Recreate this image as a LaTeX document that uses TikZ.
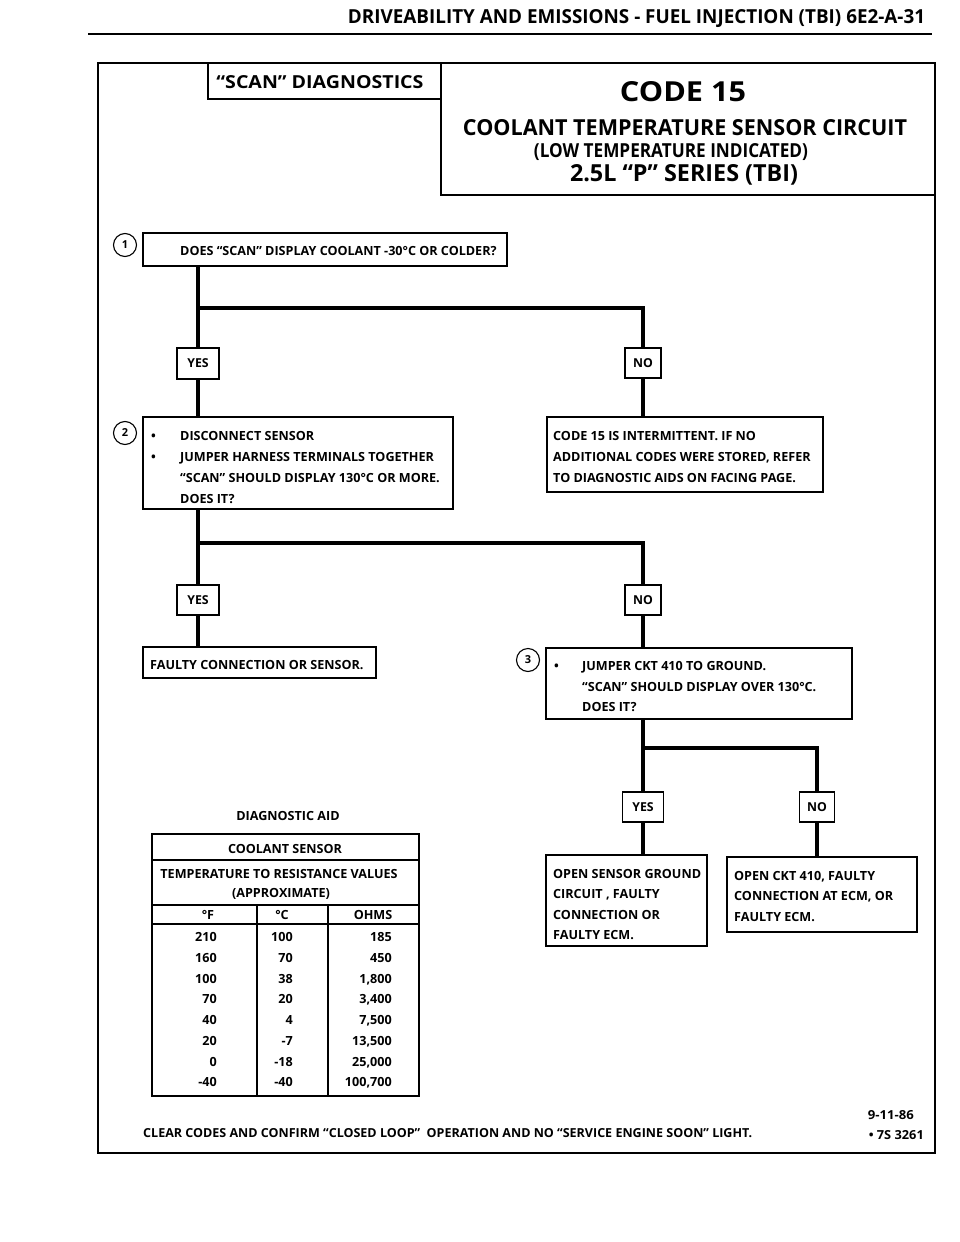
\documentclass[tikz,border=0pt]{standalone}
\usepackage{fontspec}
\setmainfont{Open Sans}
\usepackage{graphicx}
\begin{document}
\begin{tikzpicture}[x=1pt,y=-1pt,
  sz/.style 2 args={minimum width=#1pt,minimum height=#2pt},
  box/.style={draw,line width=1.2pt,inner sep=0pt,outer sep=0pt},
  yn/.style={draw,line width=1.2pt,inner sep=0pt,outer sep=0pt,fill=white,
     font=\bfseries\fontsize{12.3}{13}\selectfont},
  txt/.style={inner sep=0pt,anchor=base west,font=\bfseries\fontsize{12.6}{13}\selectfont},
  tbl/.style={inner sep=0pt,font=\bfseries\fontsize{12.6}{13}\selectfont},
  num/.style={circle,draw,line width=1.1pt,minimum size=23pt,inner sep=0pt,
     font=\bfseries\fontsize{11}{11}\selectfont},
  conn/.style={line width=3.2pt,line join=miter},
  thin/.style={line width=1.1pt}]
\useasboundingbox (0,0) rectangle (960,1242);

% page header
\node[inner sep=0pt] (hdr) at (636.5,19) {\resizebox{577pt}{14pt}{\bfseries DRIVEABILITY AND EMISSIONS - FUEL INJECTION (TBI) 6E2-A-31}};
\coordinate (ruleL) at (88,34);
\coordinate (ruleR) at (932,34);
\draw[line width=2.4pt] (ruleL) -- (ruleR);

% outer frame
\node[draw,line width=2.4pt,inner sep=0pt,sz={837}{1090}] (frame) at (516.5,608) {};

% title boxes
\node[box,sz={233}{36}] (scanbox) at (324.5,81) {};
\node[inner sep=0pt] (scantxt) at (320,82) {\resizebox{207pt}{13pt}{\bfseries “SCAN” DIAGNOSTICS}};
\node[box,sz={494}{132}] (titlebox) at (688,129) {};
\node[inner sep=0pt] (code) at (683,92) {\resizebox{126pt}{20pt}{\bfseries CODE 15}};
\node[inner sep=0pt] (ttl1) at (685,128) {\resizebox{444pt}{16pt}{\bfseries COOLANT TEMPERATURE SENSOR CIRCUIT}};
\node[inner sep=0pt] (ttl2) at (671,152) {\resizebox{274pt}{14pt}{\bfseries (LOW TEMPERATURE INDICATED)}};
\node[inner sep=0pt] (ttl3) at (684,175) {\resizebox{228pt}{17pt}{\bfseries 2.5L “P” SERIES (TBI)}};

% step 1
\node[box,sz={364}{33}] (q1) at (325,249.5) {};
\node[num] (n1) at (125,245) {1};
\node[txt] (q1t) at (180,255) {DOES “SCAN” DISPLAY COOLANT -30°C OR COLDER?};

\node[yn,sz={42}{31}] (yes1) at (198,363.5) {YES};
\node[yn,sz={36}{30}] (no1) at (643,363) {NO};
\coordinate (j1) at (198,308);

% step 2
\node[box,sz={310}{92}] (q2) at (298,463) {};
\node[num] (n2) at (125,433) {2};
\node[txt] (b2a) at (151,440) {•};
\node[txt] (q2a) at (180,440) {DISCONNECT SENSOR};
\node[txt] (b2b) at (151,461) {•};
\node[txt] (q2b) at (180,461) {JUMPER HARNESS TERMINALS TOGETHER};
\node[txt] (q2c) at (180,482) {“SCAN” SHOULD DISPLAY 130°C OR MORE.};
\node[txt] (q2d) at (180,503) {DOES IT?};

\node[box,sz={276}{75}] (inter) at (685,454.5) {};
\node[txt] (ia) at (553,440) {CODE 15 IS INTERMITTENT. IF NO};
\node[txt] (ib) at (553,461) {ADDITIONAL CODES WERE STORED, REFER};
\node[txt] (ic) at (553,482) {TO DIAGNOSTIC AIDS ON FACING PAGE.};

\node[yn,sz={42}{30}] (yes2) at (198,600) {YES};
\node[yn,sz={36}{30}] (no2) at (643,600) {NO};
\coordinate (j2) at (198,543);

\node[box,sz={233}{31}] (faulty) at (259.5,662.5) {};
\node[txt] (ft) at (150,669) {FAULTY CONNECTION OR SENSOR.};

% step 3
\node[box,sz={306}{71}] (q3) at (699,683.5) {};
\node[num] (n3) at (528,660) {3};
\node[txt] (b3) at (554,670) {•};
\node[txt] (q3a) at (582,670) {JUMPER CKT 410 TO GROUND.};
\node[txt] (q3b) at (582,691) {“SCAN” SHOULD DISPLAY OVER 130°C.};
\node[txt] (q3c) at (582,711) {DOES IT?};

\node[yn,sz={41}{30}] (yes3) at (643,807) {YES};
\node[yn,sz={35}{30}] (no3) at (817,807) {NO};
\coordinate (j3) at (643,748);

\node[box,sz={161}{91}] (r1) at (626.5,900.5) {};
\node[txt] (r1a) at (553,878) {OPEN SENSOR GROUND};
\node[txt] (r1b) at (553,898) {CIRCUIT , FAULTY};
\node[txt] (r1c) at (553,919) {CONNECTION OR};
\node[txt] (r1d) at (553,939) {FAULTY ECM.};

\node[box,sz={190}{75}] (r2) at (822,894.5) {};
\node[txt] (r2a) at (734,880) {OPEN CKT 410, FAULTY};
\node[txt] (r2b) at (734,900) {CONNECTION AT ECM, OR};
\node[txt] (r2c) at (734,921) {FAULTY ECM.};

% connectors
\draw[conn] (q1.south -| yes1) -- (yes1.north);
\draw[conn] (j1) -| (no1.north);
\draw[conn] (yes1.south) -- (yes1.south |- q2.north);
\draw[conn] (no1.south) -- (no1.south |- inter.north);
\draw[conn] (q2.south -| yes2) -- (yes2.north);
\draw[conn] (j2) -| (no2.north);
\draw[conn] (yes2.south) -- (yes2.south |- faulty.north);
\draw[conn] (no2.south) -- (no2.south |- q3.north);
\draw[conn] (q3.south -| yes3) -- (yes3.north);
\draw[conn] (j3) -| (no3.north);
\draw[conn] (yes3.south) -- (yes3.south |- r1.north);
\draw[conn] (no3.south) -- (no3.south |- r2.north);

% diagnostic aid table
\node[tbl] (aid) at (288,816) {DIAGNOSTIC AID};
\node[draw,line width=1.1pt,inner sep=0pt,sz={267}{262}] (table) at (285.5,965) {};
\coordinate (h1L) at (152,860); \coordinate (h1R) at (419,860);
\coordinate (h2L) at (152,905); \coordinate (h2R) at (419,905);
\coordinate (h3L) at (152,924); \coordinate (h3R) at (419,924);
\coordinate (v1T) at (257,905); \coordinate (v1B) at (257,1096);
\coordinate (v2T) at (328,905); \coordinate (v2B) at (328,1096);
\draw[thin] (h1L) -- (h1R);
\draw[thin] (h2L) -- (h2R);
\draw[thin] (h3L) -- (h3R);
\draw[thin] (v1T) -- (v1B);
\draw[thin] (v2T) -- (v2B);
\node[tbl] (cs) at (285,849) {COOLANT SENSOR};
\node[tbl] (tr) at (279,874) {TEMPERATURE TO RESISTANCE VALUES};
\node[tbl] (ap) at (281,894) {(APPROXIMATE)};
\node[tbl] (hf) at (208,915) {°F};
\node[tbl] (hc) at (282,915) {°C};
\node[tbl] (ho) at (373,915) {OHMS};
\foreach \f/\c/\o [count=\i] in {210/100/185, 160/70/450, 100/38/{1,800}, 70/20/{3,400}, 40/4/{7,500}, 20/-7/{13,500}, 0/-18/{25,000}, -40/-40/{100,700}} {
  \node[tbl,anchor=base east] (f\i) at (217,{941.5+(\i-1)*20.75}) {\f};
  \node[tbl,anchor=base east] (c\i) at (293,{941.5+(\i-1)*20.75}) {\c};
  \node[tbl,anchor=base east] (o\i) at (392,{941.5+(\i-1)*20.75}) {\o};
}

% footer
\node[inner sep=0pt,anchor=base west] (clear) at (143,1137.5) {\resizebox{609pt}{9pt}{\bfseries CLEAR CODES AND CONFIRM “CLOSED LOOP”\ \ OPERATION AND NO “SERVICE ENGINE SOON” LIGHT.}};
\node[inner sep=0pt,anchor=base east] (date) at (914,1119.5) {\resizebox{46pt}{9pt}{\bfseries 9-11-86}};
\node[inner sep=0pt,anchor=base east] (fig) at (924,1139) {\resizebox{55pt}{9pt}{\bfseries • 7S 3261}};
\end{tikzpicture}
\end{document}
